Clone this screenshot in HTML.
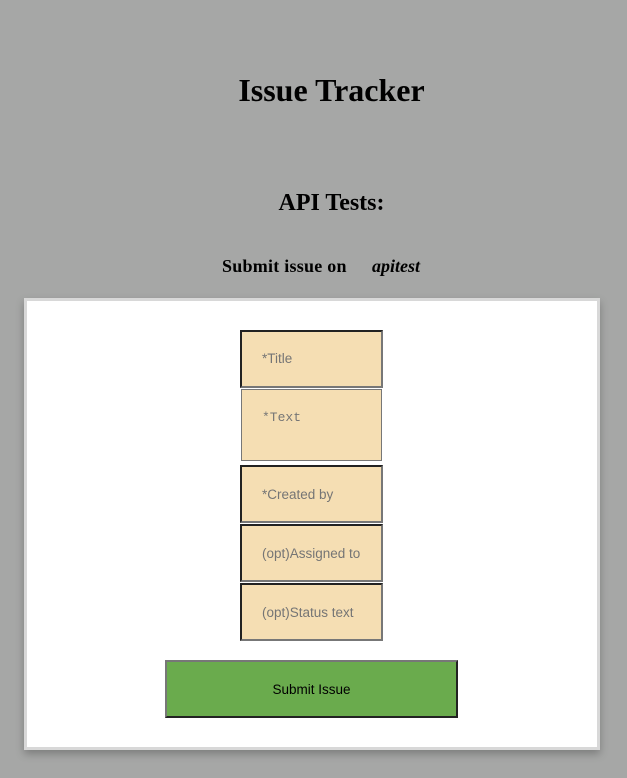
<!DOCTYPE html>
<html><head><style>
body{margin:0;width:627px;height:778px;background:#a6a7a6;position:relative;overflow:hidden;font-family:"Liberation Serif",serif;}
.t{position:absolute;left:0;width:627px;text-align:center;font-weight:bold;color:#000;margin:0;}
.box{position:absolute;left:24px;top:298px;width:570px;height:446px;background:#fff;border:3px solid #d8d8d8;box-shadow:0 4px 8px rgba(0,0,0,0.25);}
.in{position:absolute;left:240px;width:139px;background:#f5deb3;border-style:solid;border-width:2px;border-color:#222 #777 #777 #222;font-family:"Liberation Sans",sans-serif;font-size:13.5px;color:#757575;}
.in span{position:absolute;left:20px;}
</style></head><body>
<div class="t" style="top:72px;font-size:32px;left:18px">Issue Tracker</div>
<div class="t" style="top:190px;font-size:24px;left:18px">API Tests:</div>
<div class="t" style="top:256px;font-size:18px;width:auto;left:222px;letter-spacing:0.25px">Submit issue on</div>
<div class="t" style="top:256px;font-size:18px;width:auto;left:372px;font-style:italic">apitest</div>
<div class="box"></div>
<div class="in" style="top:330px;height:54px"><span style="top:19px">*Title</span></div>
<div class="in" style="top:389px;height:70px;left:241px;width:139px;border-width:1px;border-color:#777"><span style="top:20px;font-family:'Liberation Mono',monospace;font-size:13px">*Text</span></div>
<div class="in" style="top:465px;height:54px"><span style="top:20px">*Created by</span></div>
<div class="in" style="top:524px;height:54px"><span style="top:20px">(opt)Assigned to</span></div>
<div class="in" style="top:583px;height:54px"><span style="top:20px">(opt)Status text</span></div>
<div style="position:absolute;left:165px;top:660px;width:289px;height:54px;background:#6aab4d;border-style:solid;border-width:2px;border-color:#777 #222 #222 #777;font-family:'Liberation Sans',sans-serif;font-size:13.5px;color:#000;text-align:center;line-height:56px">Submit Issue</div>
</body></html>
